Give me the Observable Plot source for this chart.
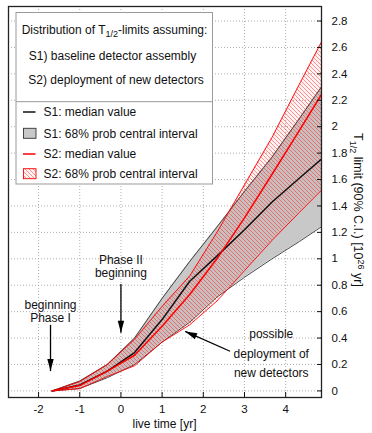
<!DOCTYPE html>
<html><head><meta charset="utf-8">
<script src="https://cdn.jsdelivr.net/npm/d3@7"></script>
<script src="https://cdn.jsdelivr.net/npm/@observablehq/plot@0.6"></script>
<style>
body{margin:0;background:#fff;font-family:"Liberation Sans",Arial,sans-serif;}
#chart{position:relative;width:372px;height:433px;}
</style></head><body>
<svg width="0" height="0" style="position:absolute">
<defs><pattern id="hatch" patternUnits="userSpaceOnUse" width="4" height="4">
<rect width="4" height="4" fill="#ff0000" fill-opacity="0.05"/>
<path d="M-1,-1L5,5M-1,3L1,5M3,-1L5,1" stroke="#ff0000" stroke-opacity="0.45" stroke-width="0.9"/>
</pattern></defs></svg>
<div id="chart"></div>
<script>
// ---- data (live time in yr, T1/2 limit in 1e26 yr) ----
const liveTime = [-1.67, -1, -0.33, 0.33, 1, 1.67, 2.33, 3, 3.67, 4.33, 5];
const s1Median = [0, 0.045, 0.15, 0.29, 0.54, 0.83, 1.02, 1.22, 1.43, 1.61, 1.79];
const s1Low    = [0, 0.018, 0.10, 0.20, 0.37, 0.52, 0.71, 0.86, 1.00, 1.13, 1.27];
const s1High   = [0, 0.075, 0.20, 0.40, 0.70, 0.98, 1.24, 1.51, 1.77, 2.06, 2.36];
const s2Median = [0, 0.04, 0.15, 0.27, 0.49, 0.73, 1.00, 1.31, 1.64, 1.97, 2.31];
const s2Low    = [0, 0.017, 0.11, 0.19, 0.37, 0.50, 0.68, 0.91, 1.14, 1.35, 1.56];
const s2High   = [0, 0.07, 0.20, 0.39, 0.64, 0.87, 1.20, 1.56, 1.92, 2.32, 2.72];

const xTicks = [-2, -1, 0, 1, 2, 3, 4];
const yTicks = [0, 0.2, 0.4, 0.6, 0.8, 1, 1.2, 1.4, 1.6, 1.8, 2, 2.2, 2.4, 2.6, 2.8];

// annotations
const noteText = ["beginning\nPhase I", "Phase II\nbeginning", "possible\ndeployment of\nnew detectors"];
const noteX = [-1.71, 0, 3.65];
const noteY = [0.60, 0.945, 0.30];
const arrowX1 = [-1.71, 0, 2.65];
const arrowY1 = [0.50, 0.81, 0.30];
const arrowX2 = [-1.71, 0, 1.56];
const arrowY2 = [0.15, 0.44, 0.45];

// ---- layout ----
const W = 372, H = 433;
const mL = 8, mR = 51, mT = 6, mB = 36;
const xDomain = [-2.73, 4.87], yDomain = [-0.05, 2.91];
const font = "Liberation Sans, Arial, Helvetica, sans-serif";

const rows = liveTime.map((t, i) => ({t, s1m: s1Median[i], s1l: s1Low[i], s1h: s1High[i], s2m: s2Median[i], s2l: s2Low[i], s2h: s2High[i]}));

const sx = d3.scaleLinear(xDomain, [mL, W - mR]);
const sy = d3.scaleLinear(yDomain, [H - mB, mT]);
function headSymbol(ux, uy, L = 12, w = 3.2) {
  return {draw(ctx) {
    const bx = -ux * L, by = -uy * L;
    ctx.moveTo(0, 0);
    ctx.lineTo(bx - uy * w, by + ux * w);
    ctx.lineTo(bx + uy * w, by - ux * w);
    ctx.closePath();
  }};
}
const headMarks = arrowX1.map((_, i) => {
  const dx = sx(arrowX2[i]) - sx(arrowX1[i]), dy = sy(arrowY2[i]) - sy(arrowY1[i]);
  const n = Math.hypot(dx, dy);
  return Plot.dot([0], {x: [arrowX2[i]], y: [arrowY2[i]], symbol: headSymbol(dx / n, dy / n), fill: "black", stroke: "none"});
});

const textMarks = noteText.map((s, i) => Plot.text([s], {x: [noteX[i]], y: [noteY[i]], text: d => d,
  lineHeight: i === 2 ? 1.62 : 1.1, fontSize: 12, fill: "#111"}));

const plot = Plot.plot({
  width: W, height: H, marginLeft: mL, marginRight: mR, marginTop: mT, marginBottom: mB,
  style: {fontFamily: font, fontSize: "12px", background: "white", color: "#111"},
  x: {domain: xDomain},
  y: {domain: yDomain},
  marks: [
    Plot.ruleX(xTicks, {x: d => d, stroke: "#999", strokeDasharray: "1,2", strokeWidth: 0.8}),
    Plot.ruleY(yTicks, {y: d => d, stroke: "#999", strokeDasharray: "1,2", strokeWidth: 0.8}),
    Plot.areaY(rows, {x: "t", y1: "s1l", y2: "s1h", fill: "#c8c8c8", clip: true}),
    Plot.lineY(rows, {x: "t", y: "s1l", stroke: "#333", strokeWidth: 0.9, clip: true}),
    Plot.lineY(rows, {x: "t", y: "s1h", stroke: "#333", strokeWidth: 0.9, clip: true}),
    Plot.areaY(rows, {x: "t", y1: "s2l", y2: "s2h", fill: "url(#hatch)", clip: true}),
    Plot.lineY(rows, {x: "t", y: "s2l", stroke: "#ff0000", strokeWidth: 0.9, clip: true}),
    Plot.lineY(rows, {x: "t", y: "s2h", stroke: "#ff0000", strokeWidth: 0.9, clip: true}),
    Plot.lineY(rows, {x: "t", y: "s1m", stroke: "#111", strokeWidth: 1.5, clip: true}),
    Plot.lineY(rows, {x: "t", y: "s2m", stroke: "#ff0000", strokeWidth: 1.5, clip: true}),
    ...textMarks,
    Plot.link(arrowX1.map((_, i) => i), {x1: i => arrowX1[i], y1: i => arrowY1[i], x2: i => arrowX2[i], y2: i => arrowY2[i], stroke: "black", strokeWidth: 1.3}),
    ...headMarks,
    Plot.frame({stroke: "#222", strokeWidth: 1.3}),
    Plot.axisX(xTicks, {anchor: "bottom", tickSize: 0, tickPadding: 7, tickFormat: d => String(d), label: null, fontSize: 11.5}),
    Plot.axisX(xTicks, {anchor: "bottom", tickSize: -5, tickFormat: () => "", label: null}),
    Plot.axisY(yTicks, {anchor: "right", tickSize: 0, tickPadding: 10, tickFormat: d3.format("~g"), label: null, fontSize: 11.5}),
    Plot.axisY(yTicks, {anchor: "right", tickSize: -5, tickFormat: () => "", label: null})
  ]
});
document.getElementById("chart").appendChild(plot);

// ---- labels & legend ----
const svg = d3.select(plot);
svg.append("text").attr("x", (mL + W - mR) / 2).attr("y", 428).attr("text-anchor", "middle")
  .attr("font-family", font).attr("font-size", 12).attr("fill", "#111").text("live time [yr]");

const yl = svg.append("text").attr("transform", "translate(358,210) rotate(90)").attr("text-anchor", "middle")
  .attr("font-family", font).attr("font-size", 12.5).attr("fill", "#111").attr("dy", "0.35em");
yl.append("tspan").text("T");
yl.append("tspan").attr("font-size", 9).attr("dy", 3.5).text("1/2");
yl.append("tspan").attr("dy", -3.5).text(" limit (90% C.I.) [10");
yl.append("tspan").attr("font-size", 9).attr("dy", -4.5).text("26");
yl.append("tspan").attr("dy", 4.5).text(" yr]");

const lg = svg.append("g").attr("font-family", font).attr("font-size", 12).attr("fill", "#111");
lg.append("rect").attr("x", 16).attr("y", 12.5).attr("width", 196.5).attr("height", 171.5)
  .attr("fill", "white").attr("stroke", "#999").attr("stroke-width", 1);
lg.append("line").attr("x1", 16).attr("x2", 212.5).attr("y1", 101.7).attr("y2", 101.7).attr("stroke", "#999");
const h1 = lg.append("text").attr("x", 114.5).attr("y", 29.5).attr("dy", "0.35em").attr("text-anchor", "middle");
h1.append("tspan").text("Distribution of T");
h1.append("tspan").attr("font-size", 9).attr("dy", 3.5).text("1/2");
h1.append("tspan").attr("dy", -3.5).text("-limits assuming:");
lg.append("text").attr("x", 112.5).attr("y", 55.7).attr("dy", "0.35em").attr("text-anchor", "middle").text("S1) baseline detector assembly");
lg.append("text").attr("x", 116).attr("y", 80).attr("dy", "0.35em").attr("text-anchor", "middle").text("S2) deployment of new detectors");
const entries = [
  {y: 112, label: "S1: median value", kind: "line", color: "#111"},
  {y: 133.3, label: "S1: 68% prob central interval", kind: "box", fill: "#c8c8c8", stroke: "#333"},
  {y: 154, label: "S2: median value", kind: "line", color: "#ff0000"},
  {y: 173.7, label: "S2: 68% prob central interval", kind: "box", fill: "url(#hatch)", stroke: "#ff0000"}
];
for (const e of entries) {
  if (e.kind === "line") lg.append("line").attr("x1", 23).attr("x2", 35.5).attr("y1", e.y).attr("y2", e.y).attr("stroke", e.color).attr("stroke-width", 1.5);
  else lg.append("rect").attr("x", 23.5).attr("y", e.y - 5).attr("width", 12.5).attr("height", 10).attr("fill", e.fill).attr("stroke", e.stroke).attr("stroke-width", 0.9);
  lg.append("text").attr("x", 43.5).attr("y", e.y).attr("dy", "0.35em").attr("text-anchor", "start").text(e.label);
}
</script>
</body></html>
